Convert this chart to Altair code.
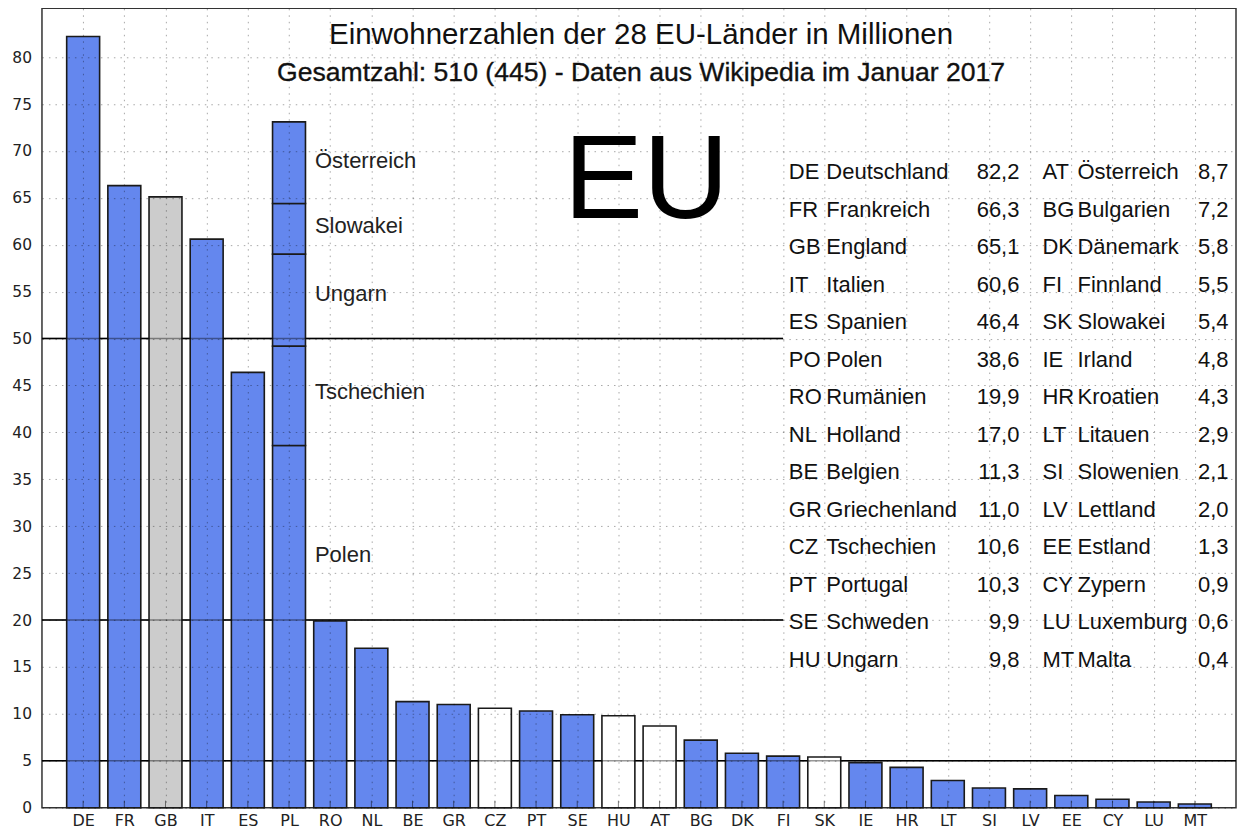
import altair as alt
import pandas as pd

# ---------------- data ----------------
codes = ["DE", "FR", "GB", "IT", "ES", "PL", "RO", "NL", "BE", "GR", "CZ", "PT", "SE", "HU",
         "AT", "BG", "DK", "FI", "SK", "IE", "HR", "LT", "SI", "LV", "EE", "CY", "LU", "MT"]
table_codes = ["DE", "FR", "GB", "IT", "ES", "PO", "RO", "NL", "BE", "GR", "CZ", "PT", "SE", "HU",
               "AT", "BG", "DK", "FI", "SK", "IE", "HR", "LT", "SI", "LV", "EE", "CY", "LU", "MT"]
names = ["Deutschland", "Frankreich", "England", "Italien", "Spanien", "Polen", "Rumänien",
         "Holland", "Belgien", "Griechenland", "Tschechien", "Portugal", "Schweden", "Ungarn",
         "Österreich", "Bulgarien", "Dänemark", "Finnland", "Slowakei", "Irland", "Kroatien",
         "Litauen", "Slowenien", "Lettland", "Estland", "Zypern", "Luxemburg", "Malta"]
population = [82.2, 66.3, 65.1, 60.6, 46.4, 38.6, 19.9, 17.0, 11.3, 11.0, 10.6, 10.3, 9.9, 9.8,
              8.7, 7.2, 5.8, 5.5, 5.4, 4.8, 4.3, 2.9, 2.1, 2.0, 1.3, 0.9, 0.6, 0.4]

BLUE = "#6487ee"
special_fill = {"GB": "#cccccc", "CZ": "#ffffff", "HU": "#ffffff", "AT": "#ffffff", "SK": "#ffffff"}

# segments stacked on the PL bar (Polen + neighbours)
pl_stack = ["PL", "CZ", "HU", "SK", "AT"]
pl_labels = ["Polen", "Tschechien", "Ungarn", "Slowakei", "Österreich"]
pl_label_y = [26.2, 43.6, 54.0, 61.3, 68.2]

title = "Einwohnerzahlen der 28 EU-Länder in Millionen"
subtitle = "Gesamtzahl: 510 (445) - Daten aus Wikipedia im Januar 2017"

# reference lines
ref_y = [50, 20, 5]
ref_x_end = [18, 18, 29]

# ---------------- tables built from the arrays ----------------
pop = dict(zip(codes, population))
HALFW = 0.4  # half bar width in category units
rows = []
for i, (c, v) in enumerate(zip(codes, population)):
    pos = i + 1
    if c == "PL":
        base = 0.0
        for s in pl_stack:
            val = pop[s]
            rows.append({"code": "PL", "x0": pos - HALFW, "x1": pos + HALFW,
                         "y0": base, "y1": base + val, "fill": BLUE})
            base += val
    else:
        rows.append({"code": c, "x0": pos - HALFW, "x1": pos + HALFW,
                     "y0": 0.0, "y1": v, "fill": special_fill.get(c, BLUE)})
bars_df = pd.DataFrame(rows)

ticks_df = pd.DataFrame({"x0": list(range(1, len(codes) + 1)), "y0": 0.0, "y1": 0.75})

ref_df = pd.DataFrame({"y0": ref_y, "x0": 0, "x1": ref_x_end})


def fmt(v):
    return f"{v:.1f}".replace(".", ",")


half = 14
tab_rows = []
for i in range(half):
    yb = 67.0 - 4 * i
    j = i + half
    tab_rows += [
        {"t": table_codes[i], "x0": 18.14, "y0": yb, "a": "L"},
        {"t": names[i], "x0": 19.05, "y0": yb, "a": "L"},
        {"t": fmt(population[i]), "x0": 23.74, "y0": yb, "a": "R"},
        {"t": table_codes[j], "x0": 24.3, "y0": yb, "a": "L"},
        {"t": names[j], "x0": 25.15, "y0": yb, "a": "L"},
        {"t": fmt(population[j]), "x0": 28.82, "y0": yb, "a": "R"},
    ]
tab_df = pd.DataFrame(tab_rows)

pl_df = pd.DataFrame({"t": pl_labels, "x0": 6.63, "y0": pl_label_y})
title_df = pd.DataFrame({"t": [title], "x0": [14.55], "y0": [81.42]})
subtitle_df = pd.DataFrame({"t": [subtitle], "x0": [14.55], "y0": [77.5]})
eu_df = pd.DataFrame({"t": ["EU"], "x0": [14.68], "y0": [62.85]})

# ---------------- scales / axes ----------------
YMAX = 85.2
yscale = alt.Scale(domain=[0, YMAX], nice=False, zero=True)
xscale = alt.Scale(domain=[0, len(codes) + 1], nice=False, zero=False)

code_array = "[" + ",".join(f"'{c}'" for c in codes) + "]"

yaxis = alt.Axis(values=list(range(0, 85, 5)), title=None, ticks=False,
                 domain=False, labelFont="DejaVu Sans", labelFontSize=15.5,
                 labelColor="#222222", labelPadding=10.5, minExtent=34, maxExtent=34,
                 grid=True, gridColor="black", gridOpacity=0.35, gridDash=[1.5, 5],
                 gridWidth=1, zindex=1)
xaxis = alt.Axis(values=list(range(1, len(codes) + 1)),
                 labelExpr=code_array + "[datum.value - 1]",
                 title=None, ticks=False, domain=False, labelAngle=0,
                 labelFont="DejaVu Sans", labelFontSize=16, labelColor="#222222",
                 labelPadding=5, minExtent=20, maxExtent=20, labelFlush=False,
                 labelOverlap=False, grid=True, gridColor="black", gridOpacity=0.35,
                 gridDash=[1.5, 5], gridWidth=1, zindex=1)

X = alt.X("x0:Q", scale=xscale, axis=xaxis)
Y = alt.Y("y0:Q", scale=yscale, axis=yaxis)

# ---------------- layers ----------------
rules_back = alt.Chart(ref_df).mark_rule(color="black", strokeWidth=1.5).encode(
    x=X, x2="x1:Q", y=Y)

bars = alt.Chart(bars_df).mark_bar(stroke="#1a1a1a", strokeWidth=1.6).encode(
    x=X, x2="x1:Q", y=Y, y2="y1:Q",
    fill=alt.Fill("fill:N", scale=None),
)

ticks = alt.Chart(ticks_df).mark_rule(color="black", opacity=0.5, strokeWidth=1).encode(
    x=X, y=Y, y2="y1:Q")

rules_front = alt.Chart(ref_df).mark_rule(color="black", opacity=0.4, strokeWidth=1.5).encode(
    x=X, x2="x1:Q", y=Y)

TXT = "#111111"
FONT = "Liberation Sans"

title_mark = alt.Chart(title_df).mark_text(font=FONT, fontSize=29.5, align="center",
                                           baseline="alphabetic", color=TXT).encode(
    x=X, y=Y, text="t:N")
subtitle_mark = alt.Chart(subtitle_df).mark_text(font=FONT, fontSize=26.6,
                                                 align="center", baseline="alphabetic",
                                                 fill=TXT, stroke=TXT, strokeWidth=0.35).encode(
    x=X, y=Y, text="t:N")

eu = alt.Chart(eu_df).mark_text(font=FONT, fontSize=119, align="center",
                                baseline="alphabetic", color="black").encode(
    x=X, y=Y, text="t:N")

pl_text = alt.Chart(pl_df).mark_text(font=FONT, fontSize=22, align="left",
                                     baseline="alphabetic", color="#222222").encode(
    x=X, y=Y, text="t:N")

tab_left = alt.Chart(tab_df).transform_filter(alt.datum.a == "L").mark_text(
    font=FONT, fontSize=22, align="left", baseline="alphabetic", color=TXT).encode(
    x=X, y=Y, text="t:N")
tab_right = alt.Chart(tab_df).transform_filter(alt.datum.a == "R").mark_text(
    font=FONT, fontSize=22, align="right", baseline="alphabetic", color=TXT).encode(
    x=X, y=Y, text="t:N")

chart = alt.layer(
    rules_back, bars, ticks, rules_front, title_mark, subtitle_mark, eu, pl_text,
    tab_left, tab_right
).properties(
    width=1195, height=800,
    padding={"left": 0, "top": 0, "right": 1, "bottom": 0},
    background="white",
).configure_view(
    stroke="#333333", strokeWidth=1.5
)

chart.save("out.html", embed_options={"renderer": "svg", "actions": False})
